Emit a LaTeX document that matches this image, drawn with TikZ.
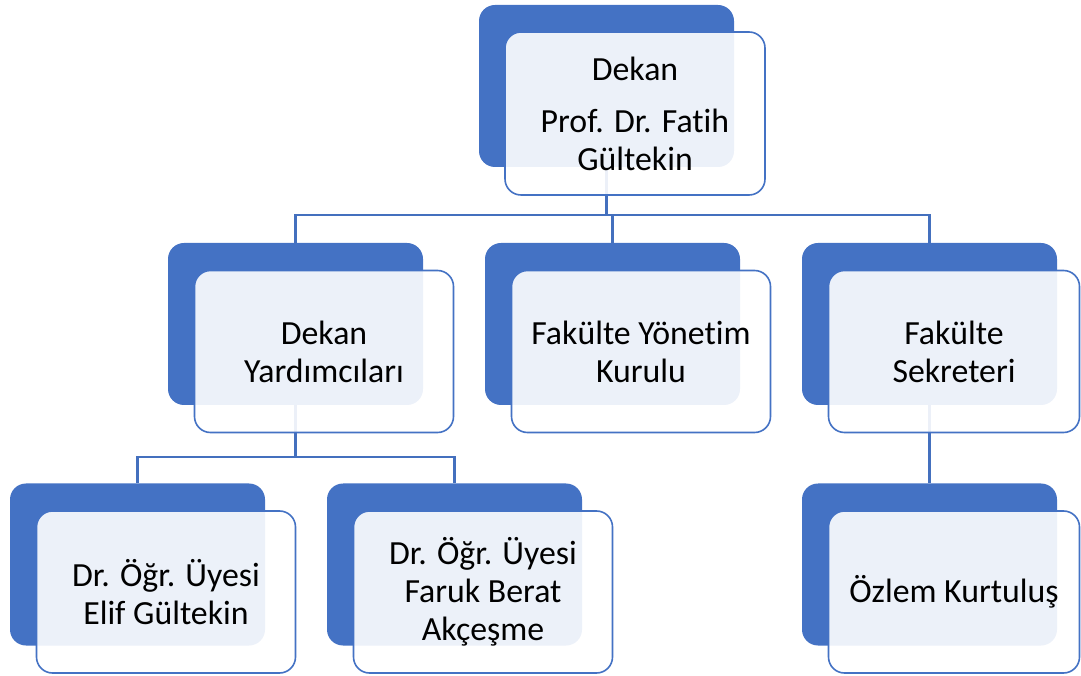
\documentclass[tikz,border=0pt]{standalone}
\usepackage{fontspec}
\setmainfont{Carlito}[Ligatures=NoCommon]
\usetikzlibrary{positioning}
\definecolor{boxblue}{HTML}{4472C4}
\definecolor{linkblue}{HTML}{4470BE}

\begin{document}
\begin{tikzpicture}[x=1pt, y=1pt,
  backbox/.style={fill=boxblue, rounded corners=16pt, minimum width=255pt, minimum height=162pt, inner sep=0pt},
  frontbox/.style={draw=boxblue, line width=1.6pt, fill=white, fill opacity=0.9, text opacity=1, rounded corners=16pt, minimum width=259pt, minimum height=162pt, inner sep=0pt, align=center, font=\fontsize{33.8}{38}\selectfont},
  link/.style={draw=linkblue, line width=2.6pt}]

\useasboundingbox (0,0) rectangle (1081,675);

% Back boxes (blue)
\node[backbox] (bdekan) at (606.5,589) {};
\node[backbox] (byard) at (295.5,351) {};
\node[backbox] (bkurul) at (612.5,351) {};
\node[backbox] (bsekr) at (929.5,351) {};
\node[backbox] (belif) at (137.5,110.5) {};
\node[backbox] (bfaruk) at (454.5,110.5) {};
\node[backbox] (bozlem) at (929.5,110.5) {};

% Connectors
\draw[link] (bdekan.south) -- ++(0,-48) coordinate (topsplit);
\draw[link] (topsplit) -| (byard.north);
\draw[link] (topsplit) -| (bkurul.north);
\draw[link] (topsplit) -| (bsekr.north);
\draw[link] (byard.south) -- ++(0,-52) coordinate (yardsplit);
\draw[link] (yardsplit) -| (belif.north);
\draw[link] (yardsplit) -| (bfaruk.north);
\draw[link] (bsekr.south) -- (bozlem.north);

% Front boxes with labels
\node[frontbox, minimum width=260pt, minimum height=163pt] (dekan) at (635,561.5) {Dekan\\[14pt]Prof. Dr. Fatih\\Gültekin};
\node[frontbox] (yard) at (324,323.5) {Dekan\\Yardımcıları};
\node[frontbox] (kurul) at (641,323.5) {Fakülte Yönetim\\Kurulu};
\node[frontbox, minimum width=251pt] (sekr) at (954,323.5) {Fakülte\\Sekreteri};
\node[frontbox] (elif) at (166,83) {Dr. Öğr. Üyesi\\Elif Gültekin};
\node[frontbox] (faruk) at (483,83) {Dr. Öğr. Üyesi\\Faruk Berat\\Akçeşme};
\node[frontbox, minimum width=251pt] (ozlem) at (954,83) {Özlem Kurtuluş};

\end{tikzpicture}
\end{document}
